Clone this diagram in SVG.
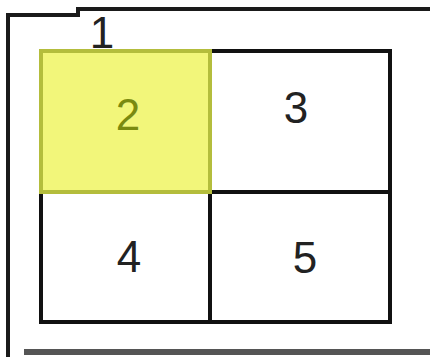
<svg xmlns="http://www.w3.org/2000/svg" width="430" height="357" viewBox="0 0 430 357">
<style>
.cell{fill:#ffffff;stroke:#111111;stroke-width:4}
.hl{fill:#f2f67a;stroke:#b4bd3c;stroke-width:4}
.lbl{font-family:"Liberation Sans",Arial,sans-serif;font-size:44px;fill:#222222;text-anchor:middle}
.frame{fill:none;stroke:#1a1a1a;stroke-width:4}
</style>
<rect width="430" height="357" fill="#ffffff"/>
<g id="node1">
<polyline class="frame" points="8,357 8,15 78,15 78,9 430,9"/>
<line x1="24" y1="352" x2="430" y2="352" stroke="#555555" stroke-width="6"/>
<text class="lbl" x="102" y="48" font-size="38">1</text>
</g>
<g id="node3"><rect class="cell" x="210" y="51" width="180" height="141"/><text class="lbl" x="296" y="123">3</text></g>
<g id="node4"><rect class="cell" x="41" y="192" width="169" height="130"/><text class="lbl" x="129" y="272">4</text></g>
<g id="node5"><rect class="cell" x="210" y="192" width="180" height="130"/><text class="lbl" x="305" y="273">5</text></g>
<g id="node2"><rect class="hl" x="41" y="51" width="169" height="141"/><text class="lbl" x="128" y="130" fill="#7a8a10" style="fill:#7a8a10">2</text></g>
<g id="connectors"></g>
</svg>
